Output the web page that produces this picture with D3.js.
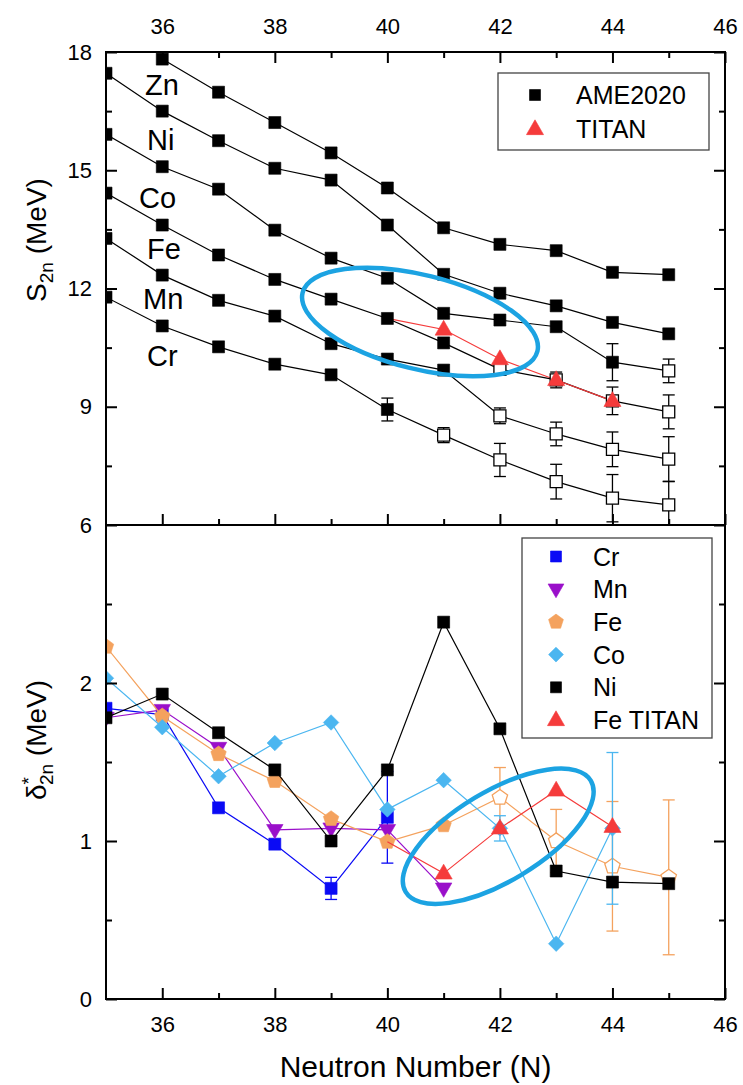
<!DOCTYPE html>
<html>
<head>
<meta charset="utf-8">
<script src="https://cdn.jsdelivr.net/npm/d3@7"></script>
<style>
  html, body { margin: 0; padding: 0; background: #fff; }
  svg { display: block; font-family: "Liberation Sans", Arial, sans-serif; }
</style>
</head>
<body>
<svg id="chart" width="743" height="1085"></svg>
<script>
// ---------------- data ----------------
const neutronNumbers = [35, 36, 37, 38, 39, 40, 41, 42, 43, 44, 45];
const xMajorTicks = [36, 38, 40, 42, 44, 46];
const xMinorTicks = [37, 39, 41, 43, 45];
const s2nMajorTicks = [6, 9, 12, 15, 18];
const s2nMinorTicks = [7.5, 10.5, 13.5, 16.5];
const deltaMajorTicks = [0, 1, 2];
const deltaMinorTicks = [0.5, 1.5, 2.5];

// Two-neutron separation energies S2n (MeV), AME2020, indexed by neutronNumbers
const s2nZn = [null, 17.82, 16.98, 16.21, 15.44, 14.55, 13.54, 13.12, 12.96, 12.41, 12.35];
const s2nNi = [17.46, 16.50, 15.75, 15.05, 14.75, 13.61, 12.36, 11.88, 11.56, 11.14, 10.85];
const s2nCo = [15.91, 15.09, 14.52, 13.48, 12.77, 12.26, 11.37, 11.20, 11.03, 10.13, 9.91];
const s2nFe = [14.42, 13.61, 12.85, 12.23, 11.73, 11.24, 10.62, 9.95, 9.68, 9.15, 8.87];
const s2nMn = [13.27, 12.34, 11.70, 11.30, 10.60, 10.21, 9.93, 8.77, 8.31, 7.92, 7.67];
const s2nCr = [11.78, 11.05, 10.52, 10.08, 9.81, 8.93, 8.28, 7.65, 7.10, 6.68, 6.51];
const s2nCoErr = [null, null, null, null, null, null, null, null, null, 0.47, 0.30];
const s2nFeErr = [null, null, null, null, null, null, null, 0.10, 0.20, 0.35, 0.43];
const s2nMnErr = [null, null, null, null, null, null, null, 0.20, 0.30, 0.44, 0.57];
const s2nCrErr = [null, null, null, null, null, 0.29, 0.19, 0.42, 0.44, 0.60, 0.60];
// first extrapolated (open symbol) neutron number of each chain
const s2nCoExtrapFrom = 45;
const s2nFeExtrapFrom = 42;
const s2nMnExtrapFrom = 42;
const s2nCrExtrapFrom = 41;

// TITAN Fe measurements
const titanN = [41, 42, 43, 44];
const s2nTitanFe = [10.96, 10.21, 9.68, 9.15];

// Empirical shell-gap indicator δ*2n (MeV)
const deltaCrN = [35, 36, 37, 38, 39, 40];
const deltaCr = [1.84, 1.80, 1.21, 0.98, 0.70, 1.15];
const deltaCrErr = [null, null, null, null, 0.07, 0.29];
const deltaMnN = [35, 36, 37, 38, 39, 40, 41];
const deltaMn = [1.78, 1.83, 1.59, 1.07, 1.08, 1.07, 0.70];
const deltaFeN = [35, 36, 37, 38, 39, 40, 41, 42, 43, 44, 45];
const deltaFe = [2.23, 1.79, 1.55, 1.38, 1.14, 0.995, 1.10, 1.275, 1.00, 0.84, 0.77];
const deltaFeErr = [null, null, null, null, null, null, null, 0.19, 0.20, 0.41, 0.49];
const deltaFeExtrapFrom = 42;
const deltaCoN = [35, 36, 37, 38, 39, 40, 41, 42, 43, 44];
const deltaCo = [2.03, 1.72, 1.41, 1.62, 1.75, 1.20, 1.385, 1.08, 0.35, 1.08];
const deltaCoErr = [null, null, null, null, null, null, null, 0.08, null, 0.48];
const deltaNiN = [35, 36, 37, 38, 39, 40, 41, 42, 43, 44, 45];
const deltaNi = [1.78, 1.93, 1.685, 1.45, 1.00, 1.45, 2.385, 1.71, 0.81, 0.74, 0.73];
const deltaTitanFe = [0.795, 1.08, 1.32, 1.09];

// ---------------- layout ----------------
const FONT = '"Liberation Sans", Arial, sans-serif';
const plotLeft = 106, plotRight = 725;
const topBox = { top: 52, bottom: 525 };
const botBox = { top: 525, bottom: 999 };

const x = d3.scaleLinear().domain([35, 46]).range([plotLeft, plotRight]);
const yTop = d3.scaleLinear().domain([6, 18]).range([topBox.bottom, topBox.top]);
const yBot = d3.scaleLinear().domain([0, 3]).range([botBox.bottom, botBox.top]);

const COLORS = {
  black: "#000000", red: "#f53b3b", cr: "#0a0af5", mn: "#9a0fca",
  fe: "#f4a25e", co: "#4bb6f0", ring: "#1ca3e2"
};

const svg = d3.select("#chart");

// ---------------- marker shapes ----------------
function markerPath(shape, s) {
  switch (shape) {
    case "square":
      return `M${-s / 2},${-s / 2}h${s}v${s}h${-s}Z`;
    case "triUp": {
      const w = s * 1.22, h = s * 1.06;
      return `M0,${-h * 0.62}L${w / 2},${h * 0.38}L${-w / 2},${h * 0.38}Z`;
    }
    case "triDown": {
      const w = s * 1.22, h = s * 1.06;
      return `M0,${h * 0.62}L${w / 2},${-h * 0.38}L${-w / 2},${-h * 0.38}Z`;
    }
    case "diamond": {
      const r = s * 0.62;
      return `M0,${-r}L${r},0L0,${r}L${-r},0Z`;
    }
    case "pentagon": {
      const r = s * 0.6;
      const pts = d3.range(5).map(k => {
        const a = -Math.PI / 2 + k * 2 * Math.PI / 5;
        return [r * Math.cos(a), r * Math.sin(a)];
      });
      return "M" + pts.map(p => p.join(",")).join("L") + "Z";
    }
  }
}

// ---------------- clip regions ----------------
const defs = svg.append("defs");
defs.append("clipPath").attr("id", "clipTop").append("rect")
  .attr("x", plotLeft).attr("y", topBox.top)
  .attr("width", plotRight - plotLeft).attr("height", topBox.bottom - topBox.top);
defs.append("clipPath").attr("id", "clipBot").append("rect")
  .attr("x", plotLeft).attr("y", botBox.top)
  .attr("width", plotRight - plotLeft).attr("height", botBox.bottom - botBox.top);

// ---------------- generic series drawing ----------------
function buildPoints(ns, values, errs, extrapFrom) {
  return ns.map((n, i) => ({
    n, v: values[i], e: errs ? errs[i] : null,
    open: extrapFrom != null && n >= extrapFrom
  })).filter(d => d.v != null);
}

function drawLine(g, pts, y, color) {
  g.append("path")
    .datum(pts)
    .attr("fill", "none")
    .attr("stroke", color)
    .attr("stroke-width", 1.2)
    .attr("d", d3.line().x(d => x(d.n)).y(d => y(d.v)));
}

function drawErrors(g, pts, y, color) {
  const cap = 6;
  const eg = g.append("g").attr("stroke", color).attr("stroke-width", 1.3).attr("fill", "none");
  pts.filter(d => d.e != null).forEach(d => {
    const cx = x(d.n), y1 = y(d.v + d.e), y2 = y(d.v - d.e);
    eg.append("line").attr("x1", cx).attr("x2", cx).attr("y1", y1).attr("y2", y2);
    eg.append("line").attr("x1", cx - cap).attr("x2", cx + cap).attr("y1", y1).attr("y2", y1);
    eg.append("line").attr("x1", cx - cap).attr("x2", cx + cap).attr("y1", y2).attr("y2", y2);
  });
}

function drawMarkers(g, pts, y, shape, size, color) {
  g.selectAll(null)
    .data(pts)
    .join("path")
    .attr("transform", d => `translate(${x(d.n)},${y(d.v)})`)
    .attr("d", markerPath(shape, size))
    .attr("fill", d => d.open ? "#ffffff" : color)
    .attr("stroke", color)
    .attr("stroke-width", d => d.open ? 1.3 : 0.6);
}

// ---------------- top panel: S2n ----------------
const topSeries = [
  { pts: buildPoints(neutronNumbers, s2nZn, null, null) },
  { pts: buildPoints(neutronNumbers, s2nNi, null, null) },
  { pts: buildPoints(neutronNumbers, s2nCo, s2nCoErr, s2nCoExtrapFrom) },
  { pts: buildPoints(neutronNumbers, s2nFe, s2nFeErr, s2nFeExtrapFrom) },
  { pts: buildPoints(neutronNumbers, s2nMn, s2nMnErr, s2nMnExtrapFrom) },
  { pts: buildPoints(neutronNumbers, s2nCr, s2nCrErr, s2nCrExtrapFrom) }
];
const topTitan = buildPoints(titanN, s2nTitanFe, null, null);
const feAt40 = { n: 40, v: s2nFe[neutronNumbers.indexOf(40)] };

const gTop = svg.append("g").attr("clip-path", "url(#clipTop)");
topSeries.forEach(s => drawLine(gTop, s.pts, yTop, COLORS.black));
drawLine(gTop, [feAt40, ...topTitan], yTop, COLORS.red);
topSeries.forEach(s => drawErrors(gTop, s.pts, yTop, COLORS.black));
topSeries.forEach(s => drawMarkers(gTop, s.pts, yTop, "square", 12, COLORS.black));
drawMarkers(gTop, topTitan, yTop, "triUp", 14, COLORS.red);

// element names beside each chain
const chainLabels = [
  { text: "Zn", px: 145, py: 95 },
  { text: "Ni", px: 147, py: 150 },
  { text: "Co", px: 139, py: 208 },
  { text: "Fe", px: 147, py: 259 },
  { text: "Mn", px: 143, py: 309 },
  { text: "Cr", px: 147, py: 366 }
];
svg.append("g").attr("font-size", 29).attr("fill", "#000")
  .selectAll("text").data(chainLabels).join("text")
  .attr("x", d => d.px).attr("y", d => d.py).text(d => d.text);

// ---------------- bottom panel: δ*2n ----------------
const botSeries = [
  { pts: buildPoints(deltaCrN, deltaCr, deltaCrErr, null), shape: "square", size: 12, color: COLORS.cr },
  { pts: buildPoints(deltaMnN, deltaMn, null, null), shape: "triDown", size: 13.5, color: COLORS.mn },
  { pts: buildPoints(deltaFeN, deltaFe, deltaFeErr, deltaFeExtrapFrom), shape: "pentagon", size: 13.5, color: COLORS.fe },
  { pts: buildPoints(deltaCoN, deltaCo, deltaCoErr, null), shape: "diamond", size: 12.5, color: COLORS.co },
  { pts: buildPoints(deltaNiN, deltaNi, null, null), shape: "square", size: 12, color: COLORS.black }
];
const botTitan = buildPoints(titanN, deltaTitanFe, null, null);
const feDeltaAt40 = { n: 40, v: deltaFe[deltaFeN.indexOf(40)] };

const gBot = svg.append("g").attr("clip-path", "url(#clipBot)");
botSeries.forEach(s => {
  drawLine(gBot, s.pts, yBot, s.color);
  drawErrors(gBot, s.pts, yBot, s.color);
  drawMarkers(gBot, s.pts, yBot, s.shape, s.size, s.color);
});
drawLine(gBot, [feDeltaAt40, ...botTitan], yBot, COLORS.red);
drawMarkers(gBot, botTitan, yBot, "triUp", 14, COLORS.red);

// ---------------- highlight rings ----------------
const rings = [
  { n: 40.58, v: 11.15, y: yTop, rx: 121, ry: 47, angle: 14 },
  { n: 41.97, v: 1.03, y: yBot, rx: 108, ry: 45, angle: -31 }
];
svg.append("g").selectAll("ellipse").data(rings).join("ellipse")
  .attr("transform", d => `translate(${x(d.n)},${d.y(d.v)}) rotate(${d.angle})`)
  .attr("rx", d => d.rx).attr("ry", d => d.ry)
  .attr("fill", "none").attr("stroke", COLORS.ring).attr("stroke-width", 4.5);

// ---------------- axes ----------------
function styleAxis(g) {
  g.attr("font-family", FONT).attr("font-size", 22);
  g.select(".domain").remove();
  g.selectAll(".tick line").attr("stroke", "#000").attr("stroke-width", 2);
  g.selectAll(".tick text").attr("fill", "#000");
}
const MAJ = 11, MIN = 6;

// top panel
svg.append("g").attr("transform", `translate(0,${topBox.top})`)
  .call(d3.axisTop(x).tickValues(xMajorTicks).tickSize(-MAJ).tickPadding(18).tickFormat(d3.format("d")))
  .call(styleAxis);
svg.append("g").attr("transform", `translate(0,${topBox.top})`)
  .call(d3.axisTop(x).tickValues(xMinorTicks).tickSize(-MIN).tickFormat(""))
  .call(styleAxis);
svg.append("g").attr("transform", `translate(0,${topBox.bottom})`)
  .call(d3.axisBottom(x).tickValues(xMajorTicks).tickSize(-MAJ).tickFormat(""))
  .call(styleAxis);
svg.append("g").attr("transform", `translate(0,${topBox.bottom})`)
  .call(d3.axisBottom(x).tickValues(xMinorTicks).tickSize(-MIN).tickFormat(""))
  .call(styleAxis);
svg.append("g").attr("transform", `translate(${plotLeft},0)`)
  .call(d3.axisLeft(yTop).tickValues(s2nMajorTicks).tickSize(-MAJ).tickPadding(14).tickFormat(d3.format("d")))
  .call(styleAxis);
svg.append("g").attr("transform", `translate(${plotLeft},0)`)
  .call(d3.axisLeft(yTop).tickValues(s2nMinorTicks).tickSize(-MIN).tickFormat(""))
  .call(styleAxis);
svg.append("g").attr("transform", `translate(${plotRight},0)`)
  .call(d3.axisRight(yTop).tickValues(s2nMajorTicks).tickSize(-MAJ).tickFormat(""))
  .call(styleAxis);
svg.append("g").attr("transform", `translate(${plotRight},0)`)
  .call(d3.axisRight(yTop).tickValues(s2nMinorTicks).tickSize(-MIN).tickFormat(""))
  .call(styleAxis);

// bottom panel
svg.append("g").attr("transform", `translate(0,${botBox.bottom})`)
  .call(d3.axisBottom(x).tickValues(xMajorTicks).tickSize(-MAJ).tickPadding(17).tickFormat(d3.format("d")))
  .call(styleAxis);
svg.append("g").attr("transform", `translate(0,${botBox.bottom})`)
  .call(d3.axisBottom(x).tickValues(xMinorTicks).tickSize(-MIN).tickFormat(""))
  .call(styleAxis);
svg.append("g").attr("transform", `translate(${plotLeft},0)`)
  .call(d3.axisLeft(yBot).tickValues(deltaMajorTicks).tickSize(-MAJ).tickPadding(14).tickFormat(d3.format("d")))
  .call(styleAxis);
svg.append("g").attr("transform", `translate(${plotLeft},0)`)
  .call(d3.axisLeft(yBot).tickValues(deltaMinorTicks).tickSize(-MIN).tickFormat(""))
  .call(styleAxis);
svg.append("g").attr("transform", `translate(${plotRight},0)`)
  .call(d3.axisRight(yBot).tickValues(deltaMajorTicks).tickSize(-MAJ).tickFormat(""))
  .call(styleAxis);
svg.append("g").attr("transform", `translate(${plotRight},0)`)
  .call(d3.axisRight(yBot).tickValues(deltaMinorTicks).tickSize(-MIN).tickFormat(""))
  .call(styleAxis);

// panel frames
[topBox, botBox].forEach(b => {
  svg.append("rect")
    .attr("x", plotLeft).attr("y", b.top)
    .attr("width", plotRight - plotLeft).attr("height", b.bottom - b.top)
    .attr("fill", "none").attr("stroke", "#000").attr("stroke-width", 2);
});

// ---------------- axis titles ----------------
svg.append("text")
  .attr("x", (plotLeft + plotRight) / 2).attr("y", 1077)
  .attr("text-anchor", "middle").attr("font-size", 30)
  .text("Neutron Number (N)");

const s2nTitle = svg.append("text")
  .attr("transform", "translate(46,240) rotate(-90)")
  .attr("text-anchor", "middle").attr("font-size", 28);
s2nTitle.append("tspan").text("S");
s2nTitle.append("tspan").attr("font-size", 19).attr("dy", 7).text("2n");
s2nTitle.append("tspan").attr("dy", -7).text(" (MeV)");

const deltaTitle = svg.append("text")
  .attr("transform", "translate(46,740) rotate(-90)")
  .attr("text-anchor", "middle").attr("font-size", 28);
deltaTitle.append("tspan").text("δ");
deltaTitle.append("tspan").attr("font-size", 19).attr("dy", -11).text("*");
deltaTitle.append("tspan").attr("font-size", 19).attr("dx", -8).attr("dy", 18).text("2n");
deltaTitle.append("tspan").attr("dy", -7).text(" (MeV)");

// ---------------- legends ----------------
function drawLegend(box, entries) {
  const g = svg.append("g");
  g.append("rect")
    .attr("x", box.x).attr("y", box.y).attr("width", box.w).attr("height", box.h)
    .attr("fill", "#fff").attr("stroke", "#444").attr("stroke-width", 1.3);
  entries.forEach((e, i) => {
    const cy = box.y + box.first + i * box.step;
    g.append("path")
      .attr("transform", `translate(${box.symX},${cy})`)
      .attr("d", markerPath(e.shape, e.size))
      .attr("fill", e.color).attr("stroke", e.color).attr("stroke-width", 0.6);
    g.append("text")
      .attr("x", box.textX).attr("y", cy).attr("dy", "0.36em")
      .attr("font-size", 25).text(e.label);
  });
}

drawLegend({ x: 498, y: 73, w: 211, h: 77, first: 22, step: 34, symX: 535, textX: 576 }, [
  { label: "AME2020", shape: "square", size: 11, color: COLORS.black },
  { label: "TITAN", shape: "triUp", size: 14, color: COLORS.red }
]);

drawLegend({ x: 522, y: 538, w: 190, h: 200, first: 18.5, step: 32.7, symX: 556, textX: 593 }, [
  { label: "Cr", shape: "square", size: 11, color: COLORS.cr },
  { label: "Mn", shape: "triDown", size: 13, color: COLORS.mn },
  { label: "Fe", shape: "pentagon", size: 13, color: COLORS.fe },
  { label: "Co", shape: "diamond", size: 12, color: COLORS.co },
  { label: "Ni", shape: "square", size: 11, color: COLORS.black },
  { label: "Fe TITAN", shape: "triUp", size: 14, color: COLORS.red }
]);
</script>
</body>
</html>
